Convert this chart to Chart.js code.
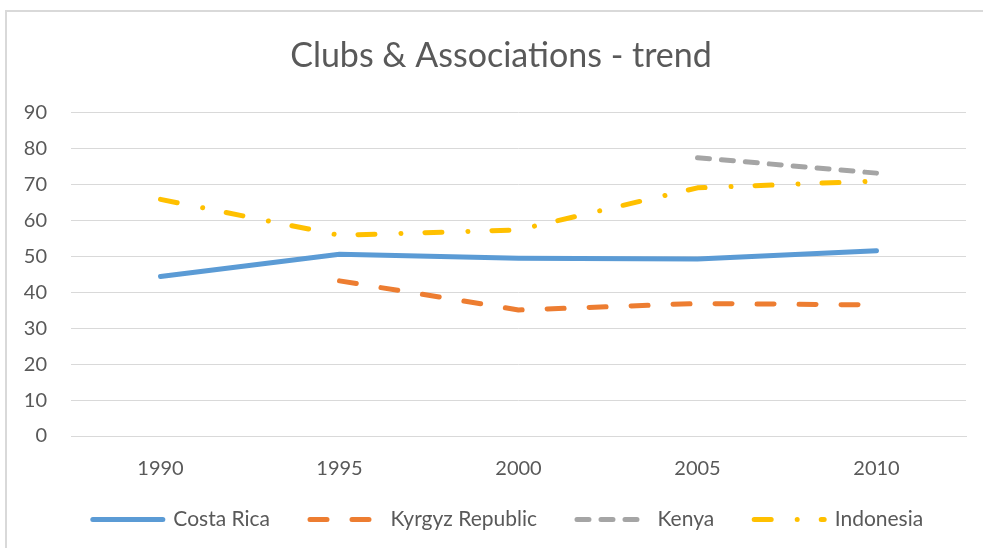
<!DOCTYPE html>
<html>
<head>
<meta charset="utf-8">
<script src="https://cdn.jsdelivr.net/npm/chart.js@4"></script>
<style>
  html, body { margin: 0; padding: 0; background: #fff; }
  canvas { display: block; }
</style>
</head>
<body>
<canvas id="chart" width="983" height="548"></canvas>
<script>
const years = ['1990', '1995', '2000', '2005', '2010'];
const costaRica = [44.4, 50.6, 49.5, 49.3, 51.6];
const kyrgyz = [null, 43.2, 35.1, 36.9, 36.5];
const kenya = [null, null, null, 77.5, 73.2];
const indonesia = [65.9, 55.9, 57.4, 69.1, 71.0];
const yTicks = [0, 10, 20, 30, 40, 50, 60, 70, 80, 90];

const FONT = 'Lato, "Open Sans", sans-serif';
const TXT = '#595959';
const LEGEND_SHIFT = 25;

// white background + the thin chart frame
const frame = {
  id: 'frame',
  beforeDraw(c) {
    const ctx = c.ctx;
    ctx.save();
    ctx.fillStyle = '#fff';
    ctx.fillRect(0, 0, c.width, c.height);
    ctx.strokeStyle = '#d9d9d9';
    ctx.lineWidth = 2;
    ctx.strokeRect(6, 11, c.width + 20, c.height + 20);
    ctx.restore();
  }
};

// bottom padding is negative so the plot runs lower; pull the legend back up
// and nudge title/legend right like the original
const nudge = {
  id: 'nudge',
  afterLayout(c) {
    if (c.legend) {
      c.legend.top -= LEGEND_SHIFT;
      c.legend.bottom -= LEGEND_SHIFT;
      c.legend.left += 22;
      c.legend.right += 22;
    }
    if (c.titleBlock) {
      c.titleBlock.left += 15;
      c.titleBlock.right += 15;
    }
  }
};

function line(label, data, color, dash) {
  return {
    label: label,
    data: data,
    borderColor: color,
    backgroundColor: color,
    borderWidth: 5,
    borderDash: dash,
    borderCapStyle: 'round',
    borderJoinStyle: 'round',
    pointRadius: 0,
    tension: 0,
    spanGaps: false
  };
}

const ctx = document.getElementById('chart');
const chart = new Chart(ctx, {
  type: 'line',
  data: {
    labels: years,
    datasets: [
      line('Costa Rica', costaRica, '#5b9bd5', []),
      line('Kyrgyz Republic', kyrgyz, '#ed7d31', [17, 25]),
      line('Kenya', kenya, '#a5a5a5', [12, 12]),
      line('Indonesia', indonesia, '#ffc000', [17, 26, 0.01, 24])
    ]
  },
  options: {
    responsive: false,
    animation: false,
    layout: { padding: { left: 6, right: 17, top: 11, bottom: 8 - LEGEND_SHIFT } },
    plugins: {
      title: {
        display: true,
        text: 'Clubs & Associations - trend',
        color: TXT,
        font: { family: FONT, size: 34, weight: 'normal' },
        padding: { top: 25, bottom: 36 }
      },
      legend: {
        position: 'bottom',
        labels: {
          usePointStyle: true,
          pointStyle: 'line',
          pointStyleWidth: 70,
          boxHeight: 5,
          padding: 40,
          color: TXT,
          font: { family: FONT, size: 21 },
          generateLabels: c => Chart.defaults.plugins.legend.labels.generateLabels(c).map((it, i) => {
            const ds = c.data.datasets[i];
            it.lineDash = ds.borderDash;
            it.lineWidth = 5;
            it.lineCap = 'round';
            it.strokeStyle = ds.borderColor;
            return it;
          })
        }
      },
      tooltip: { enabled: false }
    },
    scales: {
      x: {
        offset: true,
        grid: { display: false },
        border: { display: true, color: '#d9d9d9', width: 1 },
        ticks: { color: TXT, padding: 13, font: { family: FONT, size: 20 } }
      },
      y: {
        min: 0,
        max: 90,
        afterBuildTicks: s => { s.ticks = yTicks.map(v => ({ value: v })); },
        afterFit: s => { s.width = 65; },
        grid: { color: '#d9d9d9', lineWidth: 1, drawTicks: false },
        border: { display: false },
        ticks: { color: TXT, padding: 24, font: { family: FONT, size: 20 } }
      }
    }
  },
  plugins: [frame, nudge]
});
</script>
</body>
</html>
